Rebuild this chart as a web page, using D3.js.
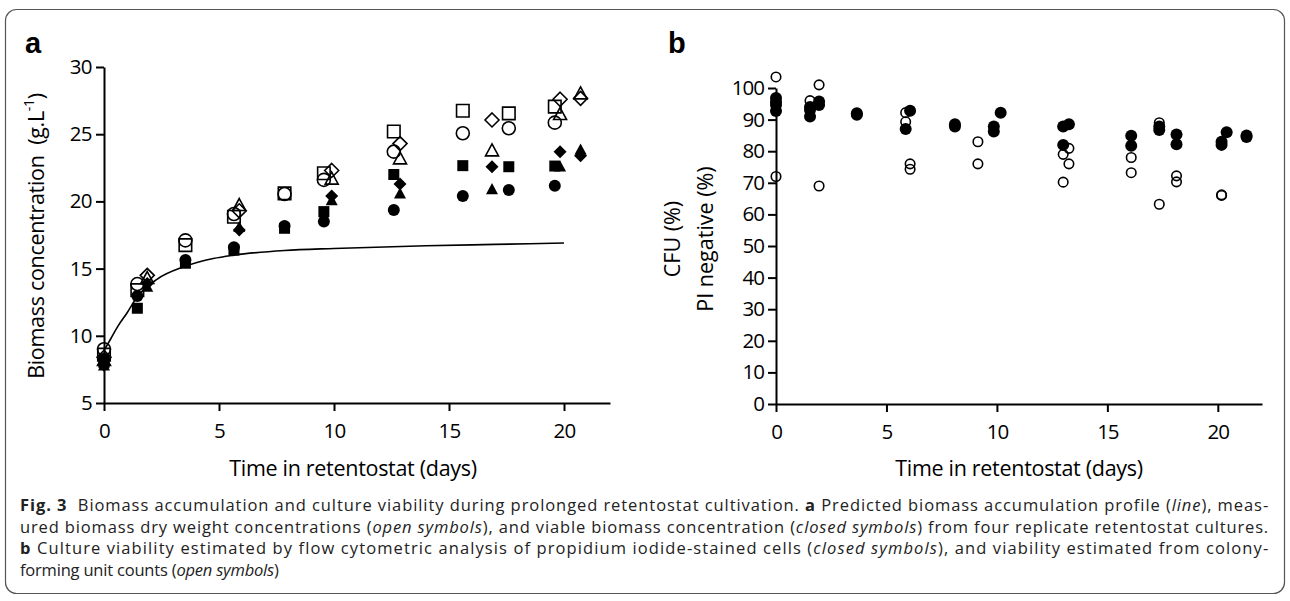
<!DOCTYPE html>
<html>
<head>
<meta charset="utf-8">
<script src="https://cdn.jsdelivr.net/npm/d3@7"></script>
<style>
	body { margin: 0; background: #fff; }
	text { font-family: "Open Sans", sans-serif; }
</style>
</head>
<body>
<svg id="fig" width="1290" height="601"></svg>
<script>
// ---- panel a: biomass (g/L), replicates 1/2 share times, 3/4 share times
const daysAB = [0, 1.45, 3.54, 5.65, 7.85, 9.56, 12.6, 15.6, 17.6, 19.6]
const circleOpen   = [9.0, 13.85, 17.1, 19.06, 20.55, 21.6, 23.7, 25.07, 25.44, 25.86]
const circleClosed = [8.3, 12.96, 15.64, 16.58, 18.17, 18.5, 19.36, 20.4, 20.85, 21.17]
const squareOpen   = [8.6, 13.4, 16.75, 18.86, 20.6, 22.1, 25.2, 26.75, 26.55, 27.05]
const squareClosed = [8.0, 12.05, 15.4, 16.38, 18.0, 19.24, 22.0, 22.66, 22.58, 22.63]

const daysCD = [0, 1.88, 5.88, 9.9, 12.87, 16.87, 19.83, 20.72]
const diamondOpen    = [8.4, 14.5, 19.3, 22.3, 24.3, 26.06, 27.6, 27.67]
const diamondClosed  = [7.8, 13.9, 17.87, 20.4, 21.3, 22.58, 23.7, 23.4]
const triangleOpen   = [8.2, 14.3, 19.73, 21.7, 23.2, 23.8, 26.5, 28.04]
const triangleClosed = [7.8, 13.65, 18.1, 20.1, 20.6, 20.92, 22.6, 23.87]

// predicted profile
const modelDays = [0, 0.3, 0.6, 1.0, 1.45, 2.3, 3.5, 4.75, 5.65, 7.85, 10, 14, 17, 20]
const modelVals = [8.9, 9.8, 10.7, 11.7, 12.9, 14.2, 15.15, 15.75, 16.0, 16.35, 16.5, 16.7, 16.8, 16.9]

// ---- panel b: viability (%)
const piDays = [0, 0, 0, 0, 1.54, 1.54, 1.54, 1.95, 1.95, 3.66, 3.66, 5.87, 6.07, 8.1, 8.1,
	9.86, 9.86, 10.17, 13.0, 13.0, 13.26, 16.08, 16.08, 17.35, 17.35, 18.13, 18.13,
	20.17, 20.17, 20.4, 21.3, 21.3]
const piVals = [96.8, 95.6, 94.6, 92.7, 94, 93, 91, 95.7, 94.6, 92, 91.5, 87, 92.8, 88.5, 87.8,
	87.8, 86.2, 92.2, 87.8, 82, 88.5, 84.9, 81.7, 87.8, 86.7, 85.3, 82.2,
	83, 82, 86, 85, 84.5]
const cfuDays = [0, 0, 1.54, 1.95, 1.95, 5.87, 5.87, 6.07, 6.07, 9.14, 9.14, 13.0, 13.0,
	13.26, 13.26, 16.08, 16.08, 17.35, 17.35, 18.13, 18.13, 20.17, 20.17]
const cfuVals = [103.5, 72, 96, 101, 69, 92.2, 89.3, 76, 74.3, 83, 76, 79, 70.2,
	80.9, 76, 78, 73.2, 89, 63.2, 72.2, 70.3, 66, 66.2]

const xTicks = [0, 5, 10, 15, 20]
const yTicksA = [5, 10, 15, 20, 25, 30]
const yTicksB = d3.range(0, 101, 10)

const svg = d3.select("#fig")
svg.append("rect").attr("width", 1290).attr("height", 601).attr("fill", "#fff")

// frame round the figure
svg.append("rect")
	.attr("x", 5.5).attr("y", 9.5)
	.attr("width", 1279).attr("height", 584)
	.attr("rx", 11)
	.attr("fill", "none")
	.attr("stroke", "#555")
	.attr("stroke-width", 1.2)

// symbol shapes, r = half width
const shapes = {
	circle:   { draw(c, s){ const r = Math.sqrt(s)/2; c.moveTo(r, 0); c.arc(0, 0, r, 0, 2*Math.PI) } },
	square:   { draw(c, s){ const r = Math.sqrt(s)/2; c.rect(-r, -r, 2*r, 2*r) } },
	diamond:  { draw(c, s){ const r = Math.sqrt(s)/2; c.moveTo(0, -r); c.lineTo(r, 0); c.lineTo(0, r); c.lineTo(-r, 0); c.closePath() } },
	triangle: { draw(c, s){ const r = Math.sqrt(s)/2; c.moveTo(0, -r); c.lineTo(r, r*0.85); c.lineTo(-r, r*0.85); c.closePath() } }
}

function styleAxis(g){
	g.select(".domain").attr("stroke", "#000").attr("stroke-width", 2)
	g.selectAll(".tick line").attr("stroke", "#000").attr("stroke-width", 2)
	g.selectAll(".tick text")
		.attr("fill", "#000")
		.style("font-size", "20.5px")
		.style("font-family", "'Open Sans', sans-serif")
}

function drawSymbols(g, x, y, days, vals, type, filled, w){
	g.append("g").selectAll("path")
		.data(days.map((d, i) => [d, vals[i]]))
		.join("path")
		.attr("transform", d => "translate(" + x(d[0]) + "," + y(d[1]) + ")")
		.attr("d", d3.symbol().type(shapes[type]).size(w*w))
		.attr("fill", filled ? "#000" : "none")
		.attr("stroke", filled ? "none" : "#000")
		.attr("stroke-width", 1.6)
}

// ================= panel a =================
const xA = d3.scaleLinear().domain([0, 22]).range([104, 610])
const yA = d3.scaleLinear().domain([5, 30]).range([403, 67])
const gA = svg.append("g")

gA.append("g")
	.attr("transform", "translate(0," + yA(5) + ")")
	.call(d3.axisBottom(xA).tickValues(xTicks).tickSize(8).tickSizeOuter(0).tickPadding(12))
	.call(styleAxis)
gA.append("g")
	.attr("transform", "translate(" + xA(0) + ",0)")
	.call(d3.axisLeft(yA).tickValues(yTicksA).tickSize(8).tickSizeOuter(0).tickPadding(4))
	.call(styleAxis)
gA.selectAll(".tick text").style("letter-spacing", "-0.6px")

gA.append("path")
	.datum(modelDays.map((d, i) => [d, modelVals[i]]))
	.attr("d", d3.line().x(d => xA(d[0])).y(d => yA(d[1])).curve(d3.curveMonotoneX))
	.attr("fill", "none")
	.attr("stroke", "#000")
	.attr("stroke-width", 1.6)

drawSymbols(gA, xA, yA, daysAB, circleClosed, "circle", true, 12)
drawSymbols(gA, xA, yA, daysAB, squareClosed, "square", true, 11)
drawSymbols(gA, xA, yA, daysCD, diamondClosed, "diamond", true, 13)
drawSymbols(gA, xA, yA, daysCD, triangleClosed, "triangle", true, 12)
drawSymbols(gA, xA, yA, daysAB, circleOpen, "circle", false, 13)
drawSymbols(gA, xA, yA, daysAB, squareOpen, "square", false, 12.5)
drawSymbols(gA, xA, yA, daysCD, diamondOpen, "diamond", false, 14)
drawSymbols(gA, xA, yA, daysCD, triangleOpen, "triangle", false, 13)

gA.append("text")
	.attr("x", 353).attr("y", 476)
	.attr("text-anchor", "middle")
	.style("font-size", "21.5px")
	.style("letter-spacing", "-0.3px")
	.text("Time in retentostat (days)")

const yTitleA = gA.append("text")
	.attr("transform", "translate(44,236) rotate(-90)")
	.attr("text-anchor", "middle")
	.style("font-size", "21.5px")
	.style("letter-spacing", "-0.3px")
yTitleA.append("tspan").text("Biomass concentration\u00a0\u00a0(g.L")
yTitleA.append("tspan").attr("dy", -10).style("font-size", "14px").text("-1")
yTitleA.append("tspan").attr("dy", 10).text(")")

gA.append("text")
	.attr("x", 25).attr("y", 53)
	.style("font-family", "'Liberation Sans', Arial, sans-serif")
	.style("font-weight", "bold")
	.style("font-size", "29px")
	.text("a")

// ================= panel b =================
const xB = d3.scaleLinear().domain([0, 22]).range([776, 1262])
const yB = d3.scaleLinear().domain([0, 100]).range([404, 88])
const gB = svg.append("g")

gB.append("g")
	.attr("transform", "translate(0," + yB(0) + ")")
	.call(d3.axisBottom(xB).tickValues(xTicks).tickSize(8).tickSizeOuter(0).tickPadding(12))
	.call(styleAxis)
gB.append("g")
	.attr("transform", "translate(" + xB(0) + ",0)")
	.call(d3.axisLeft(yB).tickValues(yTicksB).tickSize(8).tickSizeOuter(0).tickPadding(4))
	.call(styleAxis)
gB.selectAll(".tick text").style("letter-spacing", "-1px")

drawSymbols(gB, xB, yB, piDays, piVals, "circle", true, 12)
drawSymbols(gB, xB, yB, cfuDays, cfuVals, "circle", false, 9.5)

gB.append("text")
	.attr("x", 1019).attr("y", 476)
	.attr("text-anchor", "middle")
	.style("font-size", "21.5px")
	.style("letter-spacing", "-0.3px")
	.text("Time in retentostat (days)")

gB.append("text")
	.attr("transform", "translate(680,239) rotate(-90)")
	.attr("text-anchor", "middle")
	.style("font-size", "21.5px")
	.text("CFU (%)")
gB.append("text")
	.attr("transform", "translate(713,239) rotate(-90)")
	.attr("text-anchor", "middle")
	.style("font-size", "21.5px")
	.text("PI negative (%)")

gB.append("text")
	.attr("x", 668).attr("y", 53)
	.style("font-family", "'Liberation Sans', Arial, sans-serif")
	.style("font-weight", "bold")
	.style("font-size", "29px")
	.text("b")

// ================= caption =================
const captionLines = [
	[["b", "Fig. 3"], ["n", "\u00a0\u00a0Biomass accumulation and culture viability during prolonged retentostat cultivation. "],
	 ["b", "a"], ["n", " Predicted biomass accumulation profile ("], ["i", "line"], ["n", "), meas-"]],
	[["n", "ured biomass dry weight concentrations ("], ["i", "open symbols"],
	 ["n", "), and viable biomass concentration ("], ["i", "closed symbols"], ["n", ") from four replicate retentostat cultures."]],
	[["b", "b"], ["n", " Culture viability estimated by flow cytometric analysis of propidium iodide-stained cells ("],
	 ["i", "closed symbols"], ["n", "), and viability estimated from colony-"]],
	[["n", "forming unit counts ("], ["i", "open symbols"], ["n", ")"]]
]
const capLeft = 20, capRight = 1268

captionLines.forEach((parts, li) => {
	const t = svg.append("text")
		.attr("x", capLeft)
		.attr("y", 511 + li*21.5)
		.attr("fill", "#222")
		.style("font-size", "16.5px")
		.style("letter-spacing", "-0.2px")
	parts.forEach(p => {
		const s = t.append("tspan").text(p[1])
		if (p[0] == "b") s.style("font-weight", "bold")
		if (p[0] == "i") s.style("font-style", "italic")
	})
	// justified lines: stretch to the right margin
	if (li < captionLines.length - 1){
		t.attr("textLength", capRight - capLeft).attr("lengthAdjust", "spacing")
	}
})
</script>
</body>
</html>
